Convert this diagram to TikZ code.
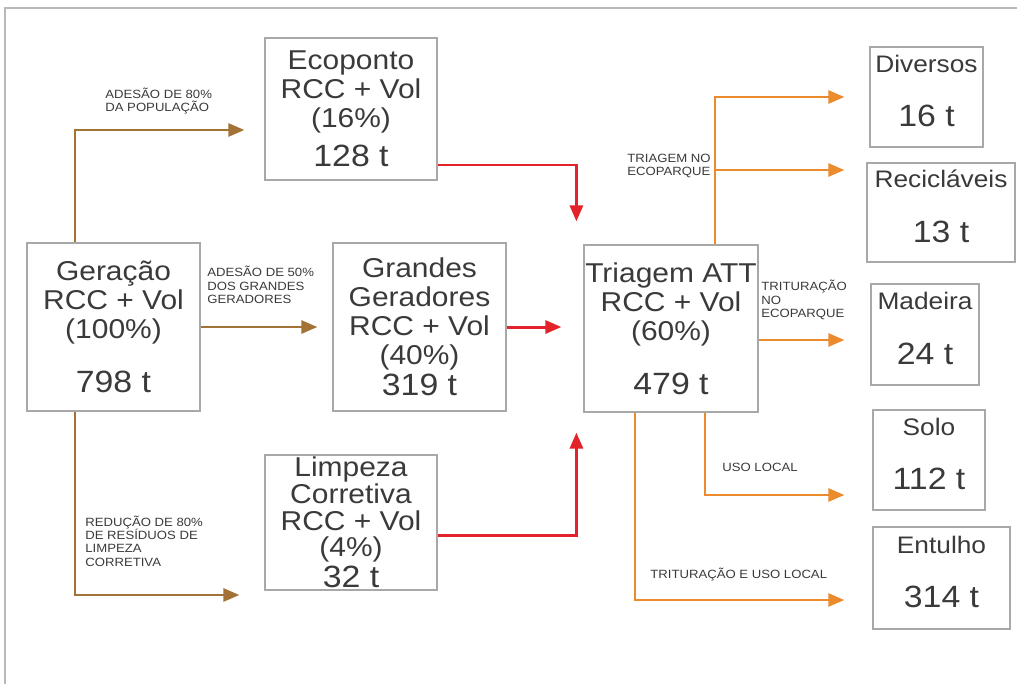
\documentclass[tikz,border=0pt]{standalone}
\usepackage{fontspec}
\setmainfont[FakeStretch=1.1]{Liberation Sans}
\usetikzlibrary{arrows.meta}
\definecolor{boxgray}{HTML}{A8A8A8}
\definecolor{txtgray}{HTML}{3A3A3A}
\definecolor{flowbrown}{HTML}{A37236}
\definecolor{flowred}{HTML}{E2242A}
\definecolor{floworange}{HTML}{EC8A2E}
\newcommand{\tonfont}{\fontsize{17.5}{18}\selectfont}

\begin{document}
\begin{tikzpicture}[x=0.02cm,y=-0.02cm,
  box/.style={draw=boxgray,line width=0.7pt,fill=white,align=center,text=txtgray,
    inner sep=0pt,font=\fontsize{15.5}{16.5}\selectfont},
  rbox/.style={box,font=\fontsize{13.6}{16}\selectfont},
  note/.style={align=left,anchor=west,text=txtgray,inner sep=0pt,
    font=\fontsize{6.8}{7.6}\selectfont},
  brownflow/.style={draw=flowbrown,line width=1.5pt,-{Triangle[length=0.32cm,width=0.26cm]}},
  redflow/.style={draw=flowred,line width=1.7pt,-{Triangle[length=0.32cm,width=0.26cm]}},
  orangeflow/.style={draw=floworange,line width=1.5pt,-{Triangle[length=0.32cm,width=0.26cm]}}]
  \useasboundingbox (0,0) rectangle (1017,684);
  \draw[gray!55,line width=1.2pt] (5,684) -- (5,8) -- (1017,8);

  % main boxes
  \node[box,minimum width=3.46cm,minimum height=3.36cm] (geracao) at (113.5,327)
    {Geração\\RCC + Vol\\(100\%)\\[14pt]{\tonfont 798 t}};
  \node[box,minimum width=3.44cm,minimum height=2.84cm] (ecoponto) at (351,109)
    {Ecoponto\\RCC + Vol\\(16\%)\\[6pt]{\tonfont 128 t}};
  \node[box,minimum width=3.46cm,minimum height=3.36cm] (grandes) at (419.5,327)
    {Grandes\\Geradores\\RCC + Vol\\(40\%)\\[1pt]{\tonfont 319 t}};
  \node[box,minimum width=3.44cm,minimum height=2.7cm,font=\fontsize{15.5}{15.2}\selectfont] (limpeza) at (351,522.5)
    {Limpeza\\Corretiva\\RCC + Vol\\(4\%)\\[1pt]{\tonfont 32 t}};
  \node[box,minimum width=3.48cm,minimum height=3.34cm] (triagem) at (671,328.5)
    {Triagem ATT\\RCC + Vol\\(60\%)\\[14pt]{\tonfont 479 t}};

  % destinations
  \node[rbox,minimum width=2.26cm,minimum height=2.0cm] (diversos) at (926.5,97)
    {Diversos\\[15pt]{\tonfont 16 t}\\[-9pt]\mbox{}};
  \node[rbox,minimum width=2.96cm,minimum height=1.98cm] (reciclaveis) at (941,212.5)
    {Recicláveis\\[15pt]{\tonfont 13 t}\\[-9pt]\mbox{}};
  \node[rbox,minimum width=2.16cm,minimum height=2.02cm] (madeira) at (925,334.5)
    {Madeira\\[15pt]{\tonfont 24 t}\\[-9pt]\mbox{}};
  \node[rbox,minimum width=2.24cm,minimum height=2.0cm] (solo) at (929,460)
    {Solo\\[15pt]{\tonfont 112 t}\\[-9pt]\mbox{}};
  \node[rbox,minimum width=2.74cm,minimum height=2.04cm] (entulho) at (941.5,578)
    {Entulho\\[15pt]{\tonfont 314 t}\\[-9pt]\mbox{}};

  % generation flows
  \draw[brownflow] ([xshift=-0.77cm]geracao.north) |- ([xshift=-0.4cm,yshift=-0.42cm]ecoponto.west);
  \node[note] (adesaopop) at (105,101) {ADESÃO DE 80\%\\DA POPULAÇÃO};
  \draw[brownflow] (geracao.east) -- ([xshift=-0.3cm]grandes.west);
  \node[note] (adesaogg) at (207,285) {ADESÃO DE 50\%\\DOS GRANDES\\GERADORES};
  \draw[brownflow] ([xshift=-0.77cm]geracao.south) |- ([xshift=-0.5cm,yshift=-1.45cm]limpeza.west);
  \node[note] (reducao) at (85,541) {REDUÇÃO DE 80\%\\DE RESÍDUOS DE\\LIMPEZA\\CORRETIVA};

  % to triagem
  \draw[redflow] ([yshift=-1.12cm]ecoponto.east) -| ([xshift=-0.14cm,yshift=0.46cm]triagem.north west);
  \draw[redflow,shorten >=0.44cm] (grandes.east) -- (grandes.east -| triagem.west);
  \draw[redflow] ([yshift=-0.25cm]limpeza.east) -| ([xshift=-0.14cm,yshift=-0.4cm]triagem.south west);

  % destinations flows
  \coordinate (tritop) at ([xshift=0.88cm]triagem.north);
  \coordinate (recin) at ([xshift=-0.44cm,yshift=0.85cm]reciclaveis.west);
  \draw[orangeflow] (tritop) |- ([xshift=-0.5cm]diversos.west);
  \draw[orangeflow] (tritop |- recin) -- (recin);
  \node[note] (triageco) at (627,166) {TRIAGEM NO\\ECOPARQUE};
  \draw[orangeflow,shorten >=0.52cm] ([yshift=-0.23cm]triagem.east) -- ([yshift=-0.23cm]triagem.east -| madeira.west);
  \node[note] (tritueco) at (761,300) {TRITURAÇÃO\\NO\\ECOPARQUE};
  \draw[orangeflow] ([xshift=0.68cm]triagem.south) |- ([xshift=-0.56cm,yshift=-0.7cm]solo.west);
  \node[note] (usolocal) at (722,467) {USO LOCAL};
  \draw[orangeflow] ([xshift=-0.72cm]triagem.south) |- ([xshift=-0.56cm,yshift=-0.44cm]entulho.west);
  \node[note] (trituso) at (650,575) {TRITURAÇÃO E USO LOCAL};
\end{tikzpicture}
\end{document}
